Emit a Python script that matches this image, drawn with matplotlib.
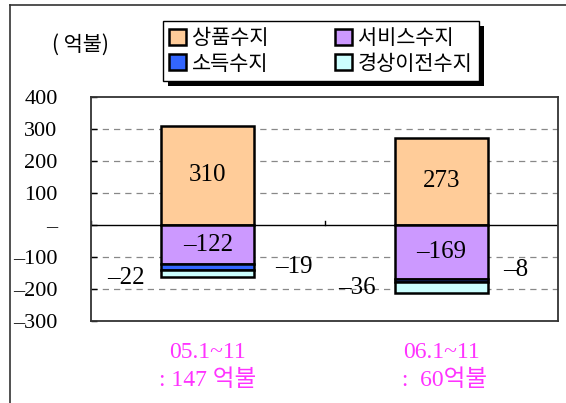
import matplotlib
matplotlib.use("Agg")
import matplotlib.pyplot as plt
from matplotlib.patches import Rectangle
import numpy as np

plt.rcParams['font.family'] = ['Liberation Serif', 'Noto Sans CJK KR', 'DejaVu Sans']

periods = ["05.1~11\n: 147 억불", "06.1~11\n :  60억불"]
series_names = ["상품수지", "서비스수지", "소득수지", "경상이전수지"]
goods = [310, 273]
services = [-122, -169]
income = [-19, -8]
transfers = [-22, -36]
colors = ["#FFCC99", "#CC99FF", "#3366FF", "#CCFFFF"]
yticks = [400, 300, 200, 100, 0, -100, -200, -300]
ytick_labels = ["400", "300", "200", "100", "–", "–100", "–200", "–300"]

fig = plt.figure(figsize=(5.66, 4.03), dpi=100)
ax = fig.add_axes([91 / 566, 1 - 321 / 403, (558 - 91) / 566, (321 - 97) / 403])

x = np.arange(len(periods))
w = 0.4
kw = dict(edgecolor="black", linewidth=1.8, zorder=3)
b1 = ax.bar(x, goods, w, color=colors[0], **kw)
b2 = ax.bar(x, services, w, color=colors[1], **kw)
bot = np.array(services)
b3 = ax.bar(x, income, w, bottom=bot, color=colors[2], **kw)
bot2 = bot + np.array(income)
b4 = ax.bar(x, transfers, w, bottom=bot2, color=colors[3], **kw)

ax.set_xlim(-0.5, 1.5)
ax.set_ylim(-300, 400)
ax.set_xticks([])
ax.set_yticks(yticks)
ax.set_yticklabels(ytick_labels, fontsize=16)
ax.tick_params(axis='y', direction='in', length=4, width=1, pad=24)
for yv in [300, 200, 100, -100, -200]:
    ax.axhline(yv, color="#888888", linestyle=(0, (5, 4)), linewidth=0.9, zorder=1)
ax.axhline(0, color="black", linewidth=1.0, zorder=2)
for xv in [-0.5, 0.5]:
    ax.plot([xv, xv], [0, 12], color="black", linewidth=1.0, zorder=2)
for s in ax.spines.values():
    s.set_linewidth(1.3)
    s.set_color("#333333")

lab = dict(fontsize=18, va="center")
for i in range(len(periods)):
    ax.text(x[i], goods[i] / 2, f"{goods[i]}", ha="center", **lab)
    ax.text(x[i], services[i] / 2, f"–{abs(services[i])}", ha="center", **lab)
label_pos_income = [(0.29, -130), (1.265, -141)]
label_pos_trans = [(-0.27, -166), (0.72, -197)]
for i in range(len(periods)):
    ax.text(label_pos_income[i][0], label_pos_income[i][1], f"–{abs(income[i])}", ha="left", **lab)
    ax.text(label_pos_trans[i][0], label_pos_trans[i][1], f"–{abs(transfers[i])}", ha="right", **lab)
    ax.text(x[i], -367, periods[i], ha="center", va="top", fontsize=17, color="#FF33FF",
            linespacing=1.35)

fig.text(80 / 566, 1 - 45 / 403, "( 억불)", ha="center", va="center", fontsize=15,
         family=['Noto Sans CJK KR', 'DejaVu Sans'])

handles = [b1, b3, b2, b4]
labels = [series_names[0], series_names[2], series_names[1], series_names[3]]
leg = fig.legend(handles=handles, labels=labels, ncol=2,
                 loc="center", bbox_to_anchor=(321 / 566, 1 - 51 / 403),
                 frameon=True, fancybox=False, shadow=False,
                 prop={'family': ['Noto Sans CJK KR', 'DejaVu Sans'], 'size': 15},
                 handlelength=0.8, handleheight=0.8, handletextpad=0.3,
                 columnspacing=3.2, borderpad=0.3, labelspacing=0.15,
                 edgecolor="black", facecolor="white", framealpha=1)
leg.get_frame().set_linewidth(1.0)
leg.set_zorder(5)
fig.canvas.draw()
bb = leg.get_window_extent()
W, H = fig.bbox.width, fig.bbox.height
fig.patches.append(Rectangle(((bb.x0 + 5) / W, (bb.y0 - 5) / H), bb.width / W, bb.height / H,
                             transform=fig.transFigure, facecolor="black", edgecolor="none", zorder=0))

fig.add_artist(plt.Line2D([10 / 566, 10 / 566], [0, 1 - 5 / 403], color="#333333", linewidth=1.2,
                          transform=fig.transFigure))
fig.add_artist(plt.Line2D([10 / 566, 1], [1 - 5 / 403, 1 - 5 / 403], color="#333333", linewidth=1.2,
                          transform=fig.transFigure))

fig.savefig("out.png", dpi=100)
